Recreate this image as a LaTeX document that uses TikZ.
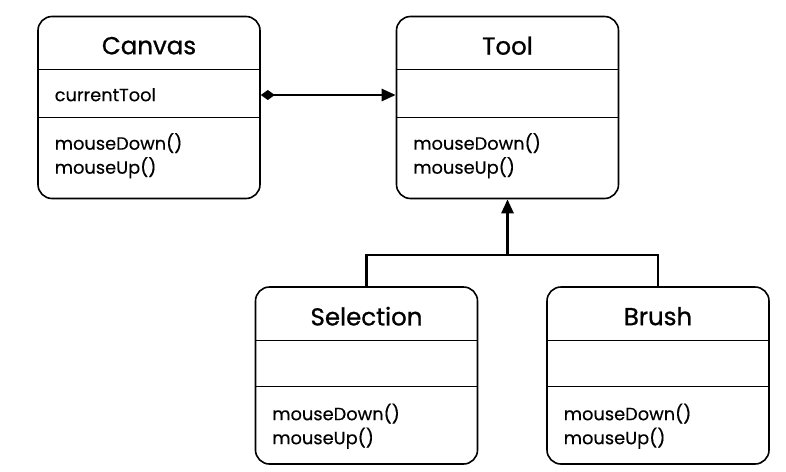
\documentclass[tikz,border=0pt]{standalone}
\usepackage{fontspec}
\setmainfont{Poppins}[FakeBold=0.3]
\newfontfamily\titlefont{Poppins}[FakeBold=0.9]
\usetikzlibrary{arrows.meta,calc}

\begin{document}
\begin{tikzpicture}[x=1pt, y=-1pt,
  class/.style={draw, line width=1.6pt, rounded corners=14pt, minimum width=222pt, inner sep=0pt},
  title/.style={font=\titlefont\fontsize{24.5}{28}\selectfont},
  member/.style={anchor=west, align=left, font=\fontsize{17.8}{24}\selectfont},
  link/.style={line width=2.6pt},
  comp/.style={link, {Diamond[length=14pt,width=10pt]}-{Triangle[length=14pt,width=12pt]}},
  inherit/.style={link, -{Triangle[length=14pt,width=12pt]}}]
\useasboundingbox (0,0) rectangle (786,471);
% class boxes
\node[class, minimum height=182pt] (canvas) at (149,107.5) {};
\node[class, minimum height=182pt] (tool) at (507.5,107.5) {};
\node[class, minimum height=177pt] (sel) at (366.5,375.5) {};
\node[class, minimum height=177pt] (brush) at (658,375.5) {};
% compartments
\foreach \cls/\txt/\mid in {canvas/Canvas/102, tool/Tool/102, sel/Selection/100, brush/Brush/100} {
  \node[title] (\cls-name) at ($(\cls.north)+(0,30)$) {\txt};
  \draw[line width=1.4pt] ($(\cls.north west)+(0,54)$) -- ($(\cls.north east)+(0,54)$);
  \draw[line width=1.4pt] ($(\cls.north west)+(0,\mid)$) -- ($(\cls.north east)+(0,\mid)$);
  \node[member] (\cls-ops) at ($(\cls.north west)+(14,140)$) {mouseDown()\\mouseUp()};
}
\node[member] (canvas-attr) at ($(canvas.north west)+(14,79)$) {currentTool};
% connectors
\coordinate (join) at (507.5,255);
\draw[comp] ([yshift=12.5pt]canvas.east) -- ([yshift=12.5pt]tool.west);
\draw[link] (sel.north) |- (join) -| (brush.north);
\draw[inherit] (join) -- (tool.south);
\end{tikzpicture}
\end{document}
